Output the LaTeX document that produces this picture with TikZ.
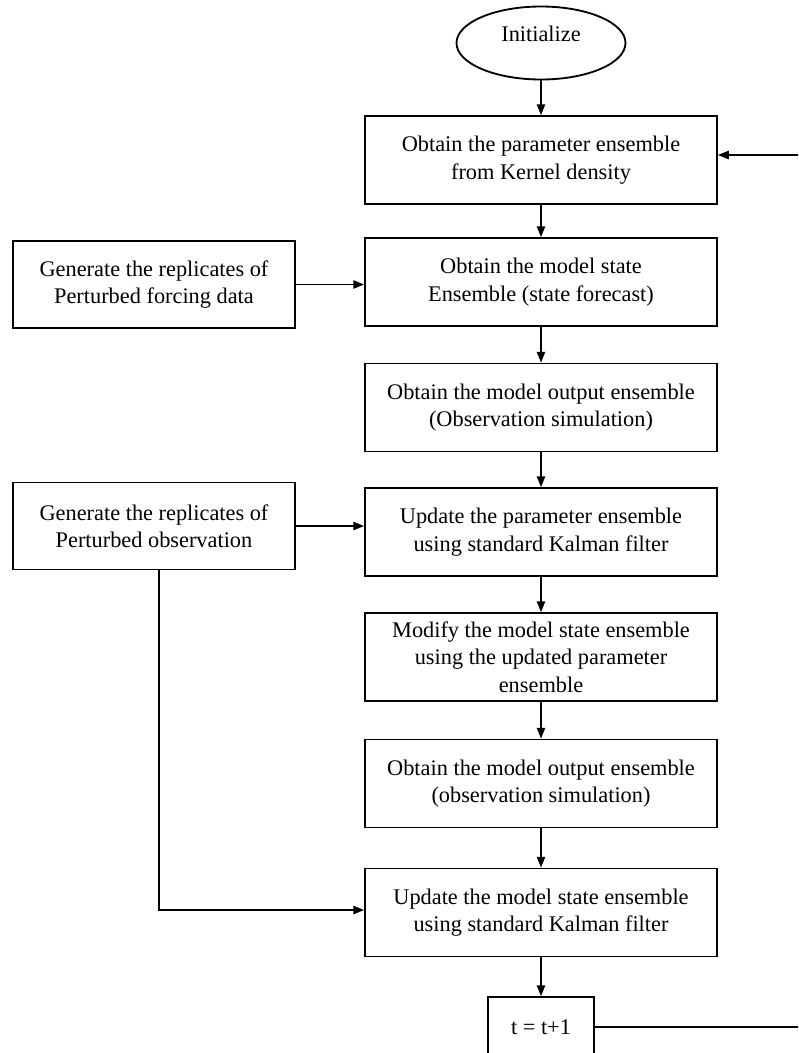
\documentclass[tikz,border=0pt]{standalone}
\usepackage{fontspec}
\setmainfont{Liberation Serif}
\usetikzlibrary{arrows.meta,shapes.geometric}

\tikzset{
	box/.style={draw,rectangle,line width=1.1pt,align=center,inner sep=2pt,
		minimum width=211.2pt,minimum height=52.8pt,
		font=\fontsize{13.4}{16.5}\selectfont},
	sidebox/.style={box,minimum width=169.2pt,minimum height=52.2pt},
	start/.style={draw,ellipse,line width=1.1pt,inner sep=0pt,
		minimum width=101.4pt,minimum height=43.8pt,
		text height=9pt,text depth=11pt,
		font=\fontsize{13.4}{16.5}\selectfont},
}

\begin{document}
\begin{tikzpicture}[->,>={Triangle[length=6.5pt,width=5pt]},line width=0.9pt,x=0.6pt,y=-0.6pt]
		\useasboundingbox (0,0) rectangle (798,1053);
		\clip (0,0) rectangle (798,1053);
		\node[start] (init)  at (541,43)    {Initialize};
		\node[box]   (kern)  at (541,160)   {Obtain the parameter ensemble\\from Kernel density};
		\node[box]   (fcst)  at (541,282)   {Obtain the model state\\Ensemble (state forecast)};
		\node[box]   (osim)  at (541,407.5) {Obtain the model output ensemble\\(Observation simulation)};
		\node[box]   (upar)  at (541,532)   {Update the parameter ensemble\\using standard Kalman filter};
		\node[box]   (modst) at (541,657)   {Modify the model state ensemble\\using the updated parameter\\ensemble};
		\node[box]   (osim2) at (541,783.5) {Obtain the model output ensemble\\(observation simulation)};
		\node[box]   (ust)   at (541,912.5) {Update the model state ensemble\\using standard Kalman filter};
		\node[box,minimum width=63.6pt,minimum height=36pt] (tinc) at (541,1027) {t = t+1};
		\node[sidebox] (force) at (154,284.5) {Generate the replicates of\\Perturbed forcing data};
		\node[sidebox] (pobs)  at (154,526)   {Generate the replicates of\\Perturbed observation};
		\coordinate (loop) at (815,0);
		\path
			(init)  edge (kern)
			(kern)  edge (fcst)
			(fcst)  edge (osim)
			(osim)  edge (upar)
			(upar)  edge (modst)
			(modst) edge (osim2)
			(osim2) edge (ust)
			(ust)   edge (tinc);
		\draw (force.east) -- (force.east -| fcst.west);
		\draw (pobs.east) -- (pobs.east -| upar.west);
		\draw ([xshift=3pt]pobs.south) |- ([yshift=1.5pt]ust.west);
		\draw (tinc.east) -- (tinc.east -| loop) -- ([yshift=3pt]kern.east -| loop) -- ([yshift=3pt]kern.east);
	\end{tikzpicture}
\end{document}
